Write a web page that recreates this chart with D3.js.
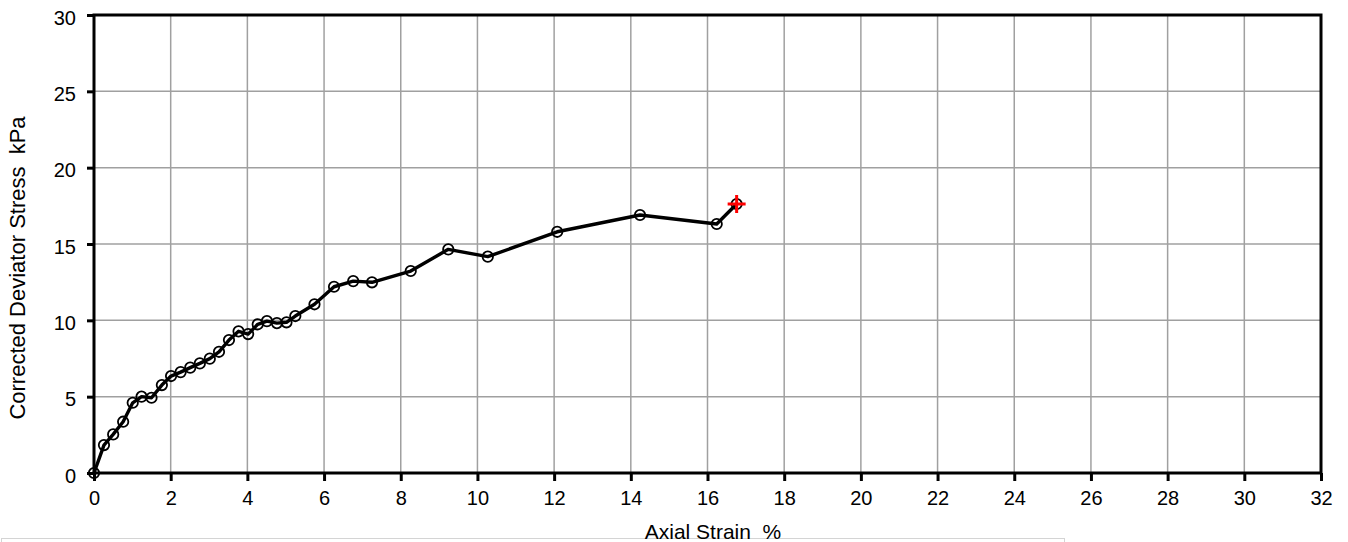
<!DOCTYPE html>
<html>
<head>
<meta charset="utf-8">
<script src="https://cdn.jsdelivr.net/npm/d3@7"></script>
<style>
  html, body { margin: 0; padding: 0; background: #fff; }
  svg { display: block; font-family: "Liberation Sans", Arial, sans-serif; }
  .title { white-space: pre; }
</style>
</head>
<body>
<svg id="chart" width="1348" height="542"></svg>
<script>
// Axial strain (%) and corrected deviator stress (kPa) readings
const strain = [0, 0.26, 0.50, 0.76, 1.01, 1.24, 1.50, 1.77, 2.01, 2.26, 2.51, 2.76, 3.02, 3.26,
  3.52, 3.77, 4.02, 4.27, 4.51, 4.77, 5.02, 5.25, 5.75, 6.26, 6.76, 7.25, 8.26, 9.24,
  10.27, 12.08, 14.24, 16.24, 16.76];
const stress = [0, 1.83, 2.53, 3.36, 4.6, 5.0, 4.93, 5.76, 6.35, 6.61, 6.9, 7.18, 7.49, 7.94,
  8.71, 9.28, 9.1, 9.74, 9.95, 9.82, 9.87, 10.28, 11.05, 12.2, 12.57, 12.49, 13.23, 14.65,
  14.17, 15.8, 16.9, 16.31, 17.62];
// Failure point
const failureStrain = [16.76];
const failureStress = [17.62];

const xTicks = d3.range(0, 33, 2);
const yTicks = d3.range(0, 31, 5);
const xLabel = "Axial Strain  %";
const yLabel = "Corrected Deviator Stress  kPa";

const svg = d3.select("#chart");
const plotL = 94, plotR = 1321, plotT = 15, plotB = 473;

const x = d3.scaleLinear().domain([0, 32]).range([plotL, plotR]);
const y = d3.scaleLinear().domain([0, 30]).range([plotB, plotT]);

// Frame around a legend area at the bottom
svg.append("rect")
  .attr("x", 1.5).attr("y", 538.5).attr("width", 1063).attr("height", 20)
  .attr("fill", "none").attr("stroke", "#d4d4d4").attr("stroke-width", 1);

// Grid
const grid = svg.append("g").attr("stroke", "#a0a0a0").attr("stroke-width", 1.5);
grid.selectAll(".vx").data(xTicks.slice(1, -1)).join("line")
  .attr("x1", d => x(d)).attr("x2", d => x(d)).attr("y1", plotT).attr("y2", plotB);
grid.selectAll(".hy").data(yTicks.slice(1, -1)).join("line")
  .attr("y1", d => y(d)).attr("y2", d => y(d)).attr("x1", plotL).attr("x2", plotR);

// Axes
const xAxis = svg.append("g").attr("transform", `translate(0,${plotB})`)
  .call(d3.axisBottom(x).tickValues(xTicks).tickSize(8).tickPadding(10).tickFormat(d3.format("d")));
const yAxis = svg.append("g").attr("transform", `translate(${plotL},0)`)
  .call(d3.axisLeft(y).tickValues(yTicks).tickSize(7).tickPadding(11).tickFormat(d3.format("d")));
[xAxis, yAxis].forEach(g => {
  g.select(".domain").remove();
  g.selectAll(".tick line").attr("stroke", "#000").attr("stroke-width", 3);
  g.selectAll(".tick text").attr("fill", "#000").attr("font-size", 20)
    .attr("font-family", "Liberation Sans, Arial, sans-serif");
});
yAxis.selectAll(".tick text").attr("dy", "0.45em");

// Plot border
svg.append("rect")
  .attr("x", plotL).attr("y", plotT).attr("width", plotR - plotL).attr("height", plotB - plotT)
  .attr("fill", "none").attr("stroke", "#000").attr("stroke-width", 3);

// Axis titles
svg.append("text").attr("class", "title").attr("x", 713).attr("y", 539)
  .attr("text-anchor", "middle").attr("font-size", 21).text(xLabel);
svg.append("text").attr("class", "title")
  .attr("transform", `translate(25,268) rotate(-90)`)
  .attr("text-anchor", "middle").attr("font-size", 22).text(yLabel);

// Curve
const pts = strain.map((s, i) => [s, stress[i]]);
svg.append("path").datum(pts)
  .attr("d", d3.line().x(d => x(d[0])).y(d => y(d[1])))
  .attr("fill", "none").attr("stroke", "#000").attr("stroke-width", 3.4)
  .attr("stroke-linejoin", "round");

svg.append("g").selectAll("circle").data(pts).join("circle")
  .attr("cx", d => x(d[0])).attr("cy", d => y(d[1])).attr("r", 5.2)
  .attr("fill", "none").attr("stroke", "#000").attr("stroke-width", 1.8);

// Failure marker
const fail = failureStrain.map((s, i) => [s, failureStress[i]]);
const fm = svg.append("g").selectAll("g").data(fail).join("g")
  .attr("transform", d => `translate(${x(d[0])},${y(d[1])})`)
  .attr("stroke", "#ff0000").attr("stroke-width", 3);
fm.append("line").attr("x1", -9).attr("x2", 9).attr("y1", 0).attr("y2", 0);
fm.append("line").attr("x1", 0).attr("x2", 0).attr("y1", -9).attr("y2", 9);
</script>
</body>
</html>
